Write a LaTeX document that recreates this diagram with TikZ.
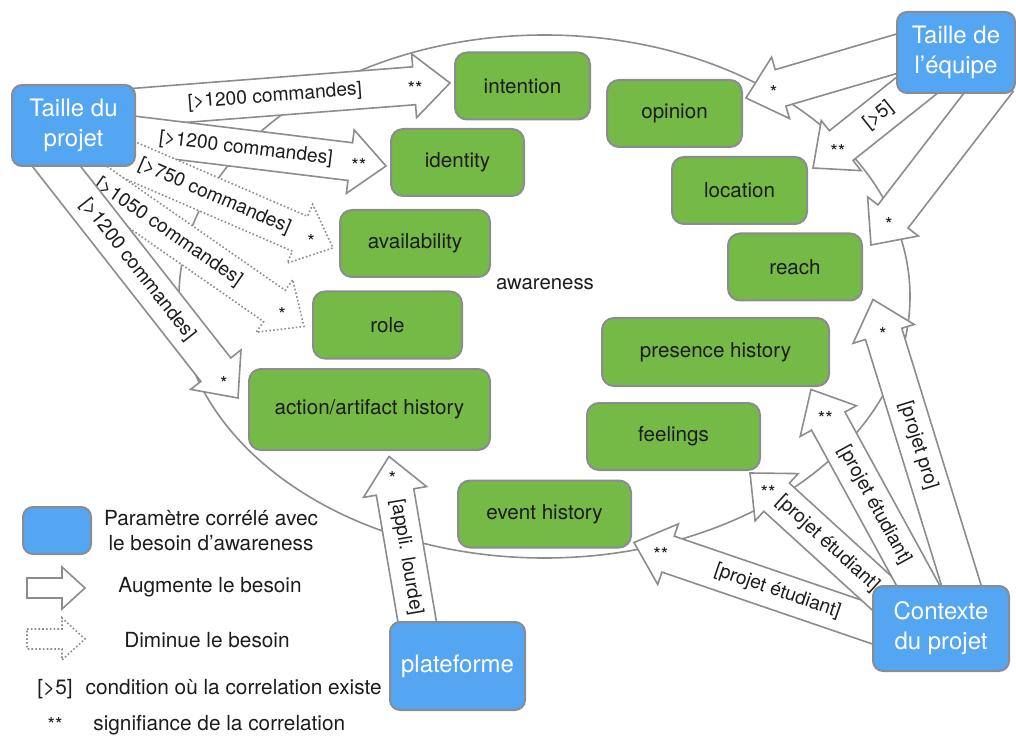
\documentclass[tikz,border=0pt]{standalone}
\usepackage{fontspec}
\setmainfont{TeX Gyre Heros}
\usetikzlibrary{calc}

\definecolor{edgegray}{RGB}{138,140,143}
\definecolor{paramblue}{RGB}{84,166,242}
\definecolor{needgreen}{RGB}{117,186,70}
\definecolor{ink}{RGB}{28,28,28}

\pgfdeclarelayer{back}
\pgfdeclarelayer{front}
\pgfsetlayers{back,main,front}

\newcommand{\arrshaft}{9.5pt} % half width of an arrow shaft
\newcommand{\arrhead}{16pt}   % half width of an arrow head
\newcommand{\arrlen}{18pt}    % length of an arrow head

\tikzset{param/.style={ % blue boxes: correlated parameters
draw=edgegray, line width=1pt, fill=paramblue, rounded corners=5pt,
text=white, align=center, inner sep=0pt,
font=\fontsize{12}{15}\selectfont},
need/.style={ % green boxes: awareness needs
draw=edgegray, line width=1pt, fill=needgreen, rounded corners=6pt,
text=ink, inner sep=0pt, minimum height=33.5pt,
font=\fontsize{10.3}{12}\selectfont},
fat/.style={ % block arrow, tail to tip
draw=edgegray, line width=0.8pt, fill=white,
to path={
($(\tikztostart)!\arrshaft!90:(\tikztotarget)$)
-- ($(\tikztotarget)!\arrlen!(\tikztostart)!\arrshaft!-90:(\tikztostart)$)
-- ($(\tikztotarget)!\arrlen!(\tikztostart)!\arrhead!-90:(\tikztostart)$)
-- (\tikztotarget)
-- ($(\tikztotarget)!\arrlen!(\tikztostart)!\arrhead!90:(\tikztostart)$)
-- ($(\tikztotarget)!\arrlen!(\tikztostart)!\arrshaft!90:(\tikztostart)$)
-- ($(\tikztostart)!\arrshaft!-90:(\tikztotarget)$) -- cycle}},
weak/.style={dash pattern=on 0.8pt off 1.1pt}, % need goes down
small/.code={\def\arrshaft{5pt}\def\arrhead{10.5pt}\def\arrlen{11.5pt}},
tag/.style={draw=none}, % only carries the labels
cond/.style={sloped, text=ink, inner sep=0pt, font=\fontsize{9.6}{11}\selectfont},
sig/.style={text=ink, inner sep=0pt, yshift=-1.5pt, font=\fontsize{9.6}{11}\selectfont},
legend/.style={text=ink, align=center, inner sep=0pt, font=\fontsize{10.4}{12.5}\selectfont}}

\begin{document}
\begin{tikzpicture}[x=0.5pt, y=-0.5pt]
\useasboundingbox (0,0) rectangle (1016,737);

% parameters, above the arrows
\begin{pgfonlayer}{front}
\node[param, minimum width=61.5pt, minimum height=40.5pt] (tdp) at (73.5,125.5) {Taille du\\projet};
\node[param, minimum width=59pt, minimum height=40.5pt] (tde) at (956,52.5) {Taille de\\l’équipe};
\node[param, minimum width=68pt, minimum height=42.5pt] (cdp) at (941,628.5) {Contexte\\du projet};
\node[param, minimum width=67.5pt, minimum height=44pt] (plat) at (457.5,666) {plateforme};
\node[param, minimum width=34pt, minimum height=23.5pt] (legbox) at (57,530.5) {};
\end{pgfonlayer}

% awareness
\begin{pgfonlayer}{back}
\draw[edgegray, line width=0.8pt] (544.5,296.5) ellipse [x radius=182.75pt, y radius=130.75pt];
\end{pgfonlayer}
\node[text=ink, font=\fontsize{10.2}{12}\selectfont] (aw) at (545,284) {awareness};

\node[need, minimum width=67.5pt] (intention) at (522.5,86) {intention};
\node[need, minimum width=66.5pt] (identity) at (457.5,162.5) {identity};
\node[need, minimum width=67.5pt] (opinion) at (674.5,113.5) {opinion};
\node[need, minimum width=67.5pt] (location) at (739.5,190.5) {location};
\node[need, minimum width=67pt] (reach) at (795,267) {reach};
\node[need, minimum width=75pt] (availability) at (415,243.5) {availability};
\node[need, minimum width=74.5pt] (role) at (387.5,325) {role};
\node[need, minimum width=120.5pt, minimum height=40.5pt] (action) at (369.5,409.5) {action/artifact history};
\node[need, minimum width=113.5pt, minimum height=34pt] (presence) at (715.5,352) {presence history};
\node[need, minimum width=86.5pt] (feelings) at (673.5,436.5) {feelings};
\node[need, minimum width=86.5pt] (event) at (544.5,514) {event history};

% arrow tails and tips
\coordinate (a1s) at ($(tdp.center)+(26.5,-15.5)$);
\coordinate (a1t) at ($(intention.west)+(-4,-3)$);
\coordinate (a2s) at ($(tdp.center)+(26.5,5.5)$);
\coordinate (a2t) at ($(identity.west)+(-4,3.5)$);
\coordinate (a3s) at ($(tdp.center)+(-13.5,4.5)$);
\coordinate (a3t) at ($(availability.west)+(-6,4.5)$);
\coordinate (a4s) at ($(tdp.center)+(-33.5,17.5)$);
\coordinate (a4t) at ($(role.west)+(-8,1.5)$);
\coordinate (a5s) at ($(tdp.center)+(-45.5,4.5)$);
\coordinate (a5t) at ($(action.west)+(-10,-11.5)$);
\coordinate (b1s) at ($(tde.center)+(-26,-8.5)$);
\coordinate (b1t) at ($(opinion.east)+(3,-15.5)$);
\coordinate (b2s) at ($(tde.center)+(-11,10.5)$);
\coordinate (b2t) at ($(location.east)+(5,-22.5)$);
\coordinate (b3s) at ($(tde.center)+(42,27.5)$);
\coordinate (b3t) at ($(reach.east)+(8,-22)$);
\coordinate (c1s) at ($(cdp.center)+(-1,18.5)$);
\coordinate (c1t) at ($(event.east)+(2,28.5)$);
\coordinate (c2s) at ($(cdp.center)+(-11,8.5)$);
\coordinate (c2t) at ($(feelings.south east)+(-11,2)$);
\coordinate (c3s) at ($(cdp.center)+(-4,-8.5)$);
\coordinate (c3t) at ($(presence.south east)+(-19,2.5)$);
\coordinate (c4s) at ($(cdp.center)+(31,-8.5)$);
\coordinate (c4t) at ($(reach.south east)+(10,-2)$);
\coordinate (d1s) at ($(plat.center)+(-35.5,-16)$);
\coordinate (d1t) at ($(action.south)+(19.5,5.5)$);

% Taille du projet
\path (a1s) edge[fat] (a1t) edge[tag] node[cond, pos=.5] {[>1200 commandes]} node[sig, pos=.9] {**} (a1t);
\path (a2s) edge[fat] (a2t) edge[tag] node[cond, pos=.51] {[>1200 commandes]} node[sig, pos=.905] {**} (a2t);
\path (a3s) edge[fat, weak] (a3t) edge[tag] node[cond, pos=.566] {[>750 commandes]} node[sig, pos=.92] {*} (a3t);
\path (a4s) edge[fat, weak] (a4t) edge[tag] node[cond, pos=.487] {[>1050 commandes]} node[sig, pos=.917] {*} (a4t);
\path (a5s) edge[fat] (a5t) edge[tag] node[cond, pos=.522] {[>1200 commandes]} node[sig, pos=.933] {*} (a5t);

% Taille de l'equipe
\path (b1s) edge[fat] (b1t) edge[tag] node[sig, pos=.85] {*} (b1t);
\path (b2s) edge[fat] (b2t) edge[tag] node[cond, pos=.504] {[>5]} node[sig, pos=.812] {**} (b2t);
\path (b3s) edge[fat] (b3t) edge[tag] node[sig, pos=.86] {*} (b3t);

% Contexte du projet
\path (c1s) edge[fat] (c1t) edge[tag] node[cond, pos=.531] {[projet étudiant]} node[sig, pos=.912] {**} (c1t);
\path (c2s) edge[fat] (c2t) edge[tag] node[cond, pos=.569] {[projet étudiant]} node[sig, pos=.9] {**} (c2t);
\path (c3s) edge[fat] (c3t) edge[tag] node[cond, pos=.497] {[projet étudiant]} node[sig, pos=.886] {**} (c3t);
\path (c4s) edge[fat] (c4t) edge[tag] node[cond, pos=.543] {[projet pro]} node[sig, pos=.9] {*} (c4t);

% plateforme
\path (d1s) edge[fat] (d1t) edge[tag] node[cond, pos=.478] {[appli. lourde]} node[sig, pos=.9] {*} (d1t);

% legend
\coordinate (la1) at (27,588);
\coordinate (lb1) at (85,588);
\coordinate (la2) at (27,639);
\coordinate (lb2) at (85,639);
\path (la1) edge[fat, small] (lb1);
\path (la2) edge[fat, small, weak] (lb2);
\node[legend] (leg1) at (211,531) {Paramètre corrélé avec\\le besoin d’awareness};
\node[legend] (leg2) at (210,587) {Augmente le besoin};
\node[legend] (leg3) at (207,640) {Diminue le besoin};
\node[legend, anchor=west] (leg4) at (37,689) {[>5]\hspace{6.5pt}condition où la correlation existe};
\node[sig] (leg5) at (55,721) {**};
\node[legend, anchor=west] (leg6) at (93,725) {signifiance de la correlation};

\end{tikzpicture}
\end{document}
